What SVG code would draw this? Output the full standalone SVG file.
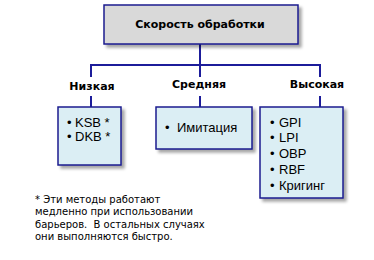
<svg xmlns="http://www.w3.org/2000/svg" width="374" height="260" viewBox="0 0 374 260">
<defs>
<filter id="sh" x="-20%" y="-20%" width="150%" height="160%">
<feDropShadow dx="3" dy="3" stdDeviation="1.5" flood-color="#000" flood-opacity="0.35"/>
</filter>
<style>
.bx{stroke:#1c1c8e;stroke-width:1.5;filter:url(#sh)}
.top{fill:#d9d9d9}
.ch{fill:#dbeef4}
.ln{stroke:#1c1c9a;stroke-width:2;fill:none}
.hd{font-family:"DejaVu Sans",Verdana,sans-serif;font-weight:bold;font-size:11px;fill:#000}
.it{font-family:"Liberation Sans",Arial,sans-serif;font-size:13px;fill:#000}
.fn{font-family:"DejaVu Sans",Tahoma,sans-serif;font-size:10px;fill:#000}
</style>
</defs>
<rect width="374" height="260" fill="#fff"/>
<g id="connectors">
<path class="ln" d="M200 44V65M91 65H320M91 64V77M200 64V77M320 64V77M91 96V107M200 96V107M320 96V107"/>
</g>
<g id="root">
<rect class="bx top" x="104" y="5" width="194" height="39"/>
<text class="hd" x="200" y="28" text-anchor="middle">Скорость обработки</text>
</g>
<g id="low">
<text class="hd" x="92" y="90" text-anchor="middle">Низкая</text>
<rect class="bx ch" x="58" y="107" width="63" height="58"/>
<text class="it" x="67" y="127">•</text><text class="it" x="75" y="127">KSB *</text>
<text class="it" x="67" y="141">•</text><text class="it" x="75" y="141">DKB *</text>
</g>
<g id="mid">
<text class="hd" x="199" y="88" text-anchor="middle">Средняя</text>
<rect class="bx ch" x="156" y="107" width="96" height="42"/>
<text class="it" x="165" y="132">•</text><text class="it" x="177" y="132">Имитация</text>
</g>
<g id="high">
<text class="hd" x="317" y="88" text-anchor="middle">Высокая</text>
<rect class="bx ch" x="260" y="107" width="83" height="91"/>
<text class="it" x="270" y="127">•</text><text class="it" x="279" y="127">GPI</text>
<text class="it" x="270" y="142">•</text><text class="it" x="279" y="142">LPI</text>
<text class="it" x="270" y="158">•</text><text class="it" x="279" y="158">OBP</text>
<text class="it" x="270" y="174">•</text><text class="it" x="279" y="174">RBF</text>
<text class="it" x="270" y="190">•</text><text class="it" x="279" y="190">Кригинг</text>
</g>
<g id="note">
<text class="fn" x="35" y="203">* Эти методы работают</text>
<text class="fn" x="35" y="215">медленно при использовании</text>
<text class="fn" x="35" y="228" xml:space="preserve">барьеров.  В остальных случаях</text>
<text class="fn" x="35" y="240">они выполняются быстро.</text>
</g>
</svg>
